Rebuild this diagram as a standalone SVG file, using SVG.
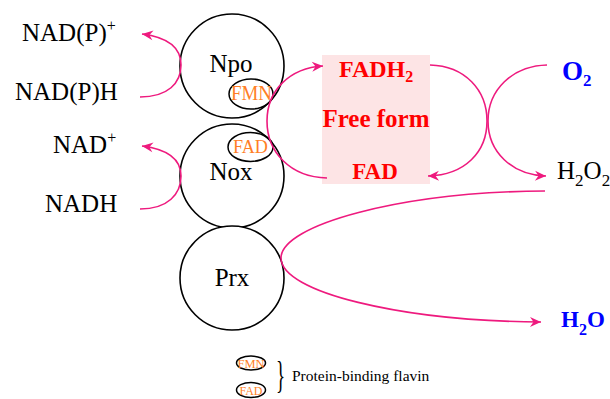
<svg xmlns="http://www.w3.org/2000/svg" width="610" height="399" viewBox="0 0 610 399">
<style>
.t{font-family:"Liberation Serif","Times New Roman",serif;fill:#000}
.b{font-weight:bold}
.c{fill:#fff;stroke:#000;stroke-width:1.6}
.e{fill:none;stroke:#000;stroke-width:1.5}
.o{fill:#FF7F27}
.r{fill:#FF0000}
.bl{fill:#0000FF}
.a{fill:none;stroke:#EE1A7E;stroke-width:1.6}
</style>
<defs>
<marker id="ah" markerUnits="userSpaceOnUse" markerWidth="14" markerHeight="12" refX="11" refY="5" orient="auto" overflow="visible">
<path d="M0,0 L11,5 L0,10 L3.5,5 Z" fill="#EE1A7E"/>
</marker>
</defs>
<rect id="freeform-box" x="322" y="55" width="108" height="129" fill="#FDE4E5"/>
<g id="labels-left">
<text class="t" x="22" y="41" font-size="25">NAD(P)<tspan font-size="16" dy="-10">+</tspan></text>
<text class="t" x="15" y="100" font-size="25">NAD(P)H</text>
<text class="t" x="53" y="153" font-size="25">NAD<tspan font-size="16" dy="-10">+</tspan></text>
<text class="t" x="45" y="212" font-size="25">NADH</text>
</g>
<g id="npo">
<circle class="c" cx="232" cy="66" r="52"/>
<text class="t" x="231" y="72" font-size="25" text-anchor="middle">Npo</text>
</g>
<g id="nox">
<circle class="c" cx="232" cy="176" r="52"/>
<text class="t" x="231" y="180" font-size="25" text-anchor="middle">Nox</text>
</g>
<g id="prx">
<circle class="c" cx="232" cy="278" r="52"/>
<text class="t" x="232" y="286" font-size="25" text-anchor="middle">Prx</text>
</g>
<g id="fmn">
<ellipse class="e" cx="251" cy="94" rx="22" ry="15"/>
<text class="t o" x="231" y="100" font-size="20" textLength="41" lengthAdjust="spacingAndGlyphs">FMN</text>
</g>
<g id="fad-bound">
<ellipse class="e" cx="250.5" cy="147" rx="22.5" ry="14.5"/>
<text class="t o" x="233" y="153" font-size="19" textLength="35" lengthAdjust="spacingAndGlyphs">FAD</text>
</g>
<g id="free-form">
<text class="t b r" x="339" y="77" font-size="24">FADH<tspan font-size="16" dy="5">2</tspan></text>
<text class="t b r" x="376" y="127" font-size="25" text-anchor="middle">Free form</text>
<text class="t b r" x="375" y="179" font-size="23" text-anchor="middle">FAD</text>
</g>
<g id="o2">
<text class="t b bl" x="562" y="80" font-size="27">O<tspan font-size="17" dy="6">2</tspan></text>
</g>
<g id="h2o2">
<text class="t" x="557" y="179" font-size="25">H<tspan font-size="17" dy="7">2</tspan><tspan dy="-7">O</tspan><tspan font-size="17" dy="7">2</tspan></text>
</g>
<g id="h2o">
<text class="t b bl" x="561" y="327" font-size="23">H<tspan font-size="16" dy="8">2</tspan><tspan dy="-8">O</tspan></text>
</g>
<g id="connectors">
<path class="a" marker-end="url(#ah)" d="M140,97 C168,97 181,83 181,65 C181,47 166,37 142,34"/>
<path class="a" marker-end="url(#ah)" d="M140,209 C168,209 181,194 181,176 C181,158 166,149 142,146"/>
<path class="a" marker-end="url(#ah)" d="M327,178 C290,177 267,152 267,121 C267,90 290,68 323,66"/>
<path class="a" marker-end="url(#ah)" d="M430,65 C465,66 487,90 487,121 C487,152 465,175 428,176"/>
<path class="a" marker-end="url(#ah)" d="M547,65 C512,66 488,90 488,121 C488,152 512,175 546,176"/>
<path class="a" marker-end="url(#ah)" d="M545,191 C400,192 281,225 281,258 C281,292 400,321 541,322"/>
</g>
<g id="legend">
<ellipse class="e" cx="251" cy="363" rx="14.5" ry="7" stroke-width="1.3"/>
<text class="t o" x="237.5" y="368" font-size="13" textLength="27" lengthAdjust="spacingAndGlyphs">FMN</text>
<ellipse class="e" cx="251" cy="390" rx="14.5" ry="7.5" stroke-width="1.3"/>
<text class="t o" x="239.5" y="395" font-size="12.5" textLength="23" lengthAdjust="spacingAndGlyphs">FAD</text>
<text class="t" x="276" y="388" font-size="38" transform="translate(276 388) scale(0.5 1) translate(-276 -388)">}</text>
<text class="t" x="292" y="381" font-size="15.5">Protein-binding flavin</text>
</g>
</svg>
